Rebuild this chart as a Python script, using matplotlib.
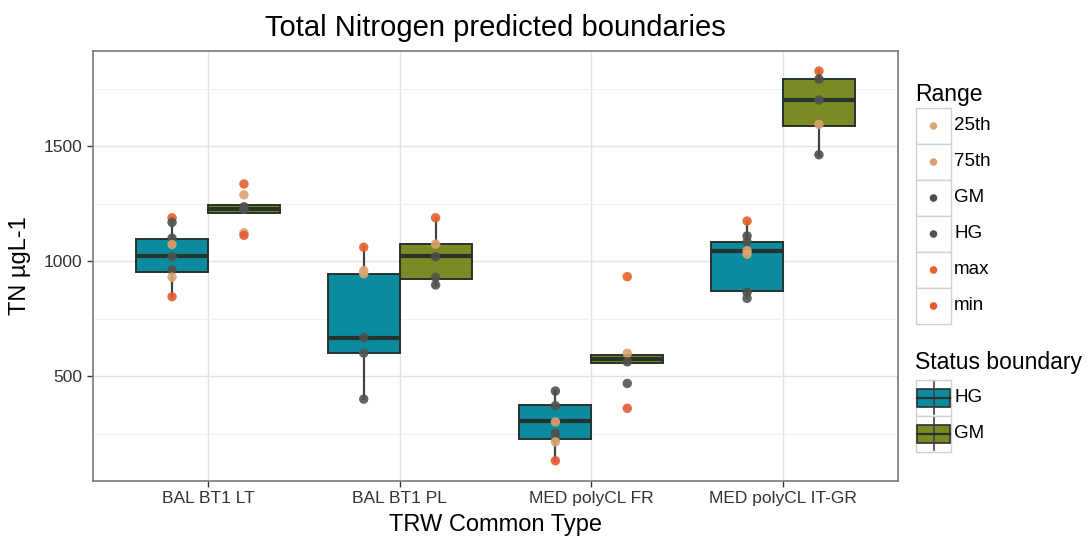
import matplotlib
matplotlib.use("Agg")
import matplotlib.pyplot as plt
from matplotlib.patches import Rectangle
import numpy as np

# --- data ---
CATEGORIES = ["BAL BT1 LT", "BAL BT1 PL", "MED polyCL FR", "MED polyCL IT-GR"]
STATUS = ["HG", "GM"]

# box stats per status, one value per category
HG_Q1 = [951, 601, 225, 871]
HG_MED = [1023, 667, 304, 1045]
HG_Q3 = [1094, 943, 374, 1081]
HG_WLO = [845, 400, 132, 838]
HG_WHI = [1188, 1060, 435, 1174]

GM_Q1 = [1210, 923, 555, 1588]
GM_MED = [1227, 1023, 573, 1700]
GM_Q3 = [1243, 1074, 590, 1791]
GM_WLO = [1210, 896, 555, 1462]
GM_WHI = [1243, 1188, 590, 1826]

# overlaid points: category index, status, range label, value
PT_CAT = [0, 0, 0, 0, 0, 0, 0, 0,
          0, 0, 0, 0, 0, 0,
          1, 1, 1, 1, 1, 1,
          1, 1, 1, 1, 1,
          2, 2, 2, 2, 2, 2, 2,
          2, 2, 2, 2, 2,
          3, 3, 3, 3, 3, 3, 3,
          3, 3, 3, 3, 3]
PT_STATUS = ["HG"] * 8 + ["GM"] * 6 + ["HG"] * 6 + ["GM"] * 5 + ["HG"] * 7 + ["GM"] * 5 + ["HG"] * 7 + ["GM"] * 5
PT_RANGE = ["max", "HG", "GM", "75th", "HG", "GM", "25th", "min",
            "max", "75th", "GM", "HG", "25th", "min",
            "max", "75th", "25th", "GM", "HG", "HG",
            "max", "75th", "GM", "HG", "GM",
            "GM", "HG", "75th", "GM", "HG", "25th", "min",
            "max", "75th", "GM", "HG", "min",
            "max", "GM", "HG", "75th", "25th", "GM", "HG",
            "max", "GM", "HG", "75th", "GM"]
PT_VALUE = [1188, 1168, 1099, 1072, 1019, 961, 930, 845,
            1335, 1288, 1236, 1225, 1123, 1112,
            1060, 958, 945, 667, 600, 400,
            1188, 1074, 1019, 929, 896,
            435, 371, 301, 252, 229, 214, 132,
            932, 599, 562, 468, 360,
            1174, 1109, 1083, 1045, 1030, 864, 838,
            1826, 1791, 1700, 1594, 1462]

RANGE_LABELS = ["25th", "75th", "GM", "HG", "max", "min"]
RANGE_COLORS = {"25th": "#D9A874", "75th": "#DDA16E", "GM": "#4D4F4A",
                "HG": "#4F5550", "max": "#E5612B", "min": "#E45A35"}
BOX_COLORS = {"HG": "#0B8BA0", "GM": "#7B8A24"}
EDGE = "#27332C"

plt.rcParams["font.family"] = ["Liberation Sans", "DejaVu Sans"]

W, H = 1091, 542
fig = plt.figure(figsize=(W / 100, H / 100), dpi=100)
ax = fig.add_axes([93 / W, 1 - 481 / H, (898 - 93) / W, (481 - 51) / H])

DODGE = 0.1875
BOX_W = 0.375
x = np.arange(1, len(CATEGORIES) + 1)

stats = {
    "HG": (HG_Q1, HG_MED, HG_Q3, HG_WLO, HG_WHI),
    "GM": (GM_Q1, GM_MED, GM_Q3, GM_WLO, GM_WHI),
}
for status in STATUS:
    q1, med, q3, wlo, whi = stats[status]
    bxp = [{"q1": q1[i], "med": med[i], "q3": q3[i], "whislo": wlo[i], "whishi": whi[i],
            "fliers": []} for i in range(len(CATEGORIES))]
    offset = -DODGE if status == "HG" else DODGE
    ax.bxp(bxp, positions=x + offset, widths=BOX_W, patch_artist=True, showcaps=False,
           boxprops=dict(facecolor=BOX_COLORS[status], edgecolor=EDGE, linewidth=1.4),
           medianprops=dict(color=EDGE, linewidth=3),
           whiskerprops=dict(color="#3F4440", linewidth=1.6), zorder=3)

pt_x = np.array([c + 1 + (-DODGE if s == "HG" else DODGE) for c, s in zip(PT_CAT, PT_STATUS)])
pt_c = [RANGE_COLORS[r] for r in PT_RANGE]
ax.scatter(pt_x, PT_VALUE, s=46, c=pt_c, alpha=0.9, edgecolors="none", zorder=4)

ax.set_xlim(0.4, 4.6)
ax.set_ylim(44, 1913)
ax.set_xticks(x)
ax.set_xticklabels(CATEGORIES, fontsize=12.5, color="#333333")
ax.set_yticks([500, 1000, 1500])
ax.set_yticklabels(["500", "1000", "1500"], fontsize=12.5, color="#333333")
ax.set_yticks([250, 750, 1250, 1750], minor=True)
ax.grid(which="major", color="#E3E3E3", linewidth=1.0, zorder=0)
ax.grid(which="minor", axis="y", color="#F1F1F1", linewidth=0.8, zorder=0)
ax.tick_params(which="major", length=4, color="#333333", width=1)
ax.tick_params(which="minor", length=0)
ax.set_axisbelow(True)
for sp in ax.spines.values():
    sp.set_color("#7A7A7A")
    sp.set_linewidth(1.2)

ax.set_xlabel("TRW Common Type", fontsize=17)
ax.xaxis.set_label_coords(0.5, -(525 - 481) / (481 - 51), transform=ax.transAxes)
ax.xaxis.label.set_va("center")
ax.set_ylabel("TN µgL-1", fontsize=17)
ax.yaxis.set_label_coords(-(93 - 20) / (898 - 93), 0.5, transform=ax.transAxes)
ax.yaxis.label.set_va("center")
fig.text(495 / W, 1 - 28 / H, "Total Nitrogen predicted boundaries", fontsize=21,
         ha="center", va="center")

# --- legends, drawn in pixel space ---
lg = fig.add_axes([0, 0, 1, 1], facecolor="none")
lg.set_xlim(0, W)
lg.set_ylim(H, 0)
lg.axis("off")

lg.text(915, 94, "Range", fontsize=16.5, va="center", ha="left")
row_h = 36
top = 108
for i, lab in enumerate(RANGE_LABELS):
    y0 = top + i * row_h
    lg.add_patch(Rectangle((916, y0), 35, row_h, facecolor="white", edgecolor="#D0D0D0", linewidth=1))
    lg.scatter([933.5], [y0 + row_h / 2], s=30, color=RANGE_COLORS[lab], edgecolors="none")
    lg.text(954, y0 + row_h / 2, lab, fontsize=13.5, va="center", ha="left")

lg.text(915, 363, "Status boundary", fontsize=16.5, va="center", ha="left")
top2 = 380
for i, status in enumerate(STATUS):
    y0 = top2 + i * row_h
    lg.add_patch(Rectangle((916, y0), 35, row_h, facecolor="white", edgecolor="#D0D0D0", linewidth=1))
    cx = 933.5
    lg.plot([cx, cx], [y0 + 2, y0 + row_h - 2], color="#3F4440", linewidth=1.2)
    lg.add_patch(Rectangle((917, y0 + 9), 33, row_h - 18, facecolor=BOX_COLORS[status],
                           edgecolor=EDGE, linewidth=1.2))
    lg.plot([917, 950], [y0 + row_h / 2, y0 + row_h / 2], color=EDGE, linewidth=1.6)
    lg.text(954, y0 + row_h / 2, status, fontsize=13.5, va="center", ha="left")

fig.savefig("out.png", dpi=100)
